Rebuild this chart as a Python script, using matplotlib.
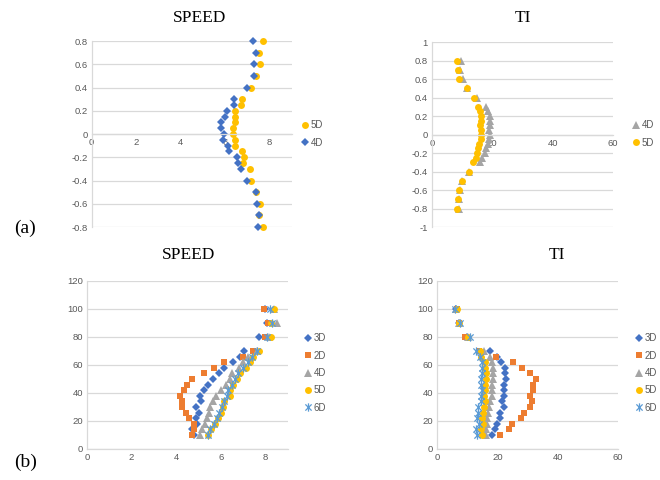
import numpy as np
import matplotlib.pyplot as plt
from matplotlib.path import Path
from matplotlib.ticker import FuncFormatter

# (a) top row: normalised position across the wake
pos_a = [0.8, 0.7, 0.6, 0.5, 0.4, 0.3, 0.25, 0.2, 0.15, 0.1, 0.05, 0, -0.05,
         -0.1, -0.15, -0.2, -0.25, -0.3, -0.4, -0.5, -0.6, -0.7, -0.8]
speed_a_5d = [7.7, 7.52, 7.55, 7.4, 7.18, 6.77, 6.7, 6.46, 6.46, 6.43, 6.35, 6.35,
              6.46, 6.46, 6.77, 6.83, 6.8, 7.1, 7.18, 7.4, 7.55, 7.52, 7.7]
speed_a_4d = [7.25, 7.4, 7.28, 7.28, 7.0, 6.4, 6.4, 6.08, 6.0, 5.83, 5.8, 5.95,
              5.9, 6.13, 6.17, 6.53, 6.6, 6.7, 6.98, 7.37, 7.43, 7.52, 7.49]
ti_a_4d = [9.7, 9.4, 10.3, 11.6, 15.0, 18.0, 18.6, 19.1, 19.4, 19.1, 18.9, 19.1,
           18.8, 18.6, 18.0, 17.5, 16.7, 15.8, 12.3, 10.1, 9.2, 8.8, 9.0]
ti_a_5d = [8.4, 8.7, 9.0, 11.5, 13.9, 15.4, 15.9, 16.1, 16.1, 15.9, 16.1, 16.1,
           16.4, 15.6, 15.4, 15.0, 14.7, 13.6, 12.2, 10.0, 9.0, 8.6, 8.4]

# (b) bottom row: height
height_b = [100, 90, 80, 70, 66, 62, 58, 54, 50, 46, 42, 38, 34, 30, 26, 22, 18, 14, 10]
speed_b = {
    "3D": [7.97, 8.08, 7.72, 7.03, 6.85, 6.53, 6.15, 5.89, 5.63, 5.41, 5.26, 5.07,
           5.1, 4.89, 5.0, 4.89, 4.92, 4.7, 4.81],
    "2D": [7.94, 8.12, 7.97, 7.42, 6.97, 6.15, 5.71, 5.25, 4.69, 4.5, 4.35, 4.17,
           4.25, 4.25, 4.44, 4.55, 4.8, 4.81, 4.69],
    "4D": [8.39, 8.52, 8.17, 7.6, 7.23, 7.0, 6.81, 6.51, 6.41, 6.21, 6.0, 5.77,
           5.66, 5.51, 5.47, 5.36, 5.29, 5.17, 5.07],
    "5D": [8.39, 8.22, 8.24, 7.7, 7.45, 7.3, 7.12, 6.85, 6.7, 6.53, 6.41, 6.41,
           6.15, 6.1, 5.98, 5.85, 5.74, 5.56, 5.41],
    "6D": [8.2, 8.27, 8.08, 7.6, 7.37, 7.23, 7.0, 6.78, 6.63, 6.48, 6.33, 6.26,
           6.14, 6.03, 5.89, 5.81, 5.69, 5.5, 5.44],
}
ti_b = {
    "3D": [6.4, 7.2, 9.9, 17.5, 20.0, 21.2, 22.5, 22.5, 23.0, 22.3, 22.3, 22.3,
           21.5, 22.1, 21.0, 21.0, 20.0, 19.3, 18.3],
    "2D": [6.6, 7.3, 9.3, 13.9, 19.7, 25.3, 28.1, 31.0, 32.7, 31.8, 31.8, 31.0,
           31.4, 30.7, 28.8, 27.7, 25.0, 23.8, 21.0],
    "4D": [6.4, 7.3, 10.3, 15.5, 17.7, 18.3, 18.7, 18.7, 18.7, 18.3, 18.3, 18.1,
           17.7, 17.2, 17.0, 16.7, 16.7, 16.4, 16.1],
    "5D": [6.6, 7.3, 10.3, 14.4, 14.7, 16.0, 16.0, 16.4, 16.1, 16.0, 15.8, 15.5,
           16.0, 15.5, 15.2, 14.9, 15.2, 14.7, 14.9],
    "6D": [5.9, 7.5, 10.8, 13.0, 14.1, 15.0, 15.0, 15.0, 14.7, 14.7, 15.0, 14.7,
           14.7, 13.6, 13.6, 13.4, 13.9, 13.0, 13.4],
}

# excel-like star marker: x with a vertical bar
star = Path([(0, -1), (0, 1), (-0.75, -0.75), (0.75, 0.75), (-0.75, 0.75), (0.75, -0.75)],
            [Path.MOVETO, Path.LINETO] * 3)

styles = {
    "3D": dict(marker="D", color="#4472C4", ms=4.5),
    "2D": dict(marker="s", color="#ED7D31", ms=4.8),
    "4D": dict(marker="^", color="#A5A5A5", ms=5.5),
    "5D": dict(marker="o", color="#FFC000", ms=5.0),
    "6D": dict(marker=star, color="#5B9BD5", ms=6.0),
}

TICK_FONT = "Liberation Sans"
GRID = "#D9D9D9"
TXT = "#595959"


def draw(ax, x, y, label, st):
    kw = dict(linestyle="none", marker=st["marker"], ms=st["ms"], clip_on=False, label=label)
    if st["marker"] is star:
        kw.update(mfc="none", mec=st["color"], mew=0.9)
    else:
        kw.update(mfc=st["color"], mec=st["color"], mew=0)
    return ax.plot(x, y, **kw)[0]


def fmt(v, p):
    v = round(v, 2)
    return "%g" % (0.0 if abs(v) < 1e-9 else v)


def style(ax, xlim, xticks, ylim, yticks, zero_axis):
    ax.set_xlim(*xlim)
    ax.set_ylim(*ylim)
    ax.set_xticks(xticks)
    ax.set_yticks(yticks)
    ax.yaxis.set_major_formatter(FuncFormatter(fmt))
    for s in ("top", "right"):
        ax.spines[s].set_visible(False)
    for s in ("left", "bottom"):
        ax.spines[s].set_color(GRID)
        ax.spines[s].set_linewidth(0.9)
    if zero_axis:
        ax.spines["bottom"].set_position(("data", 0))
    ax.yaxis.grid(True, color=GRID, lw=0.9)
    ax.set_axisbelow(True)
    ax.tick_params(length=0, labelsize=6.8, labelcolor=TXT, pad=3)
    for lab in ax.get_xticklabels() + ax.get_yticklabels():
        lab.set_fontfamily(TICK_FONT)


def legend(ax, handles, x, y, spacing):
    leg = ax.legend(handles=handles, loc="center left", bbox_to_anchor=(x, y),
                    bbox_transform=ax.figure.transFigure, frameon=False,
                    handlelength=0.8, handletextpad=0.2, borderpad=0, borderaxespad=0,
                    labelspacing=spacing, prop={"family": TICK_FONT, "size": 7})
    for t in leg.get_texts():
        t.set_color(TXT)


fig = plt.figure(figsize=(6.6, 4.8), dpi=100)
title_font = dict(family="Liberation Serif", size=12.5)

# (a) SPEED
ax1 = fig.add_axes([0.139, 0.527, 0.303, 0.3875])
style(ax1, (0, 9), [0, 2, 4, 6, 8], (-0.8, 0.8), np.arange(-0.8, 0.81, 0.2), True)
h5 = draw(ax1, speed_a_5d, pos_a, "5D", styles["5D"])
h4 = draw(ax1, speed_a_4d, pos_a, "4D", styles["3D"])
legend(ax1, [h5, h4], 0.456, 0.721, 0.75)
fig.text(0.303, 0.962, "SPEED", ha="center", va="center", **title_font)

# (a) TI
ax2 = fig.add_axes([0.6545, 0.527, 0.2742, 0.3855])
style(ax2, (0, 60), [0, 20, 40, 60], (-1, 1), np.arange(-1, 1.01, 0.2), True)
h4 = draw(ax2, ti_a_4d, pos_a, "4D", styles["4D"])
h5 = draw(ax2, ti_a_5d, pos_a, "5D", styles["5D"])
legend(ax2, [h4, h5], 0.957, 0.721, 0.75)
fig.text(0.792, 0.962, "TI", ha="center", va="center", **title_font)

# (b) SPEED
ax3 = fig.add_axes([0.1318, 0.0646, 0.3045, 0.35])
style(ax3, (0, 9), [0, 2, 4, 6, 8], (0, 120), range(0, 121, 20), False)
hs = [draw(ax3, speed_b[k], height_b, k, styles[k]) for k in ["3D", "2D", "4D", "5D", "6D"]]
legend(ax3, hs, 0.461, 0.223, 0.75)
fig.text(0.285, 0.469, "SPEED", ha="center", va="center", **title_font)

# (b) TI
ax4 = fig.add_axes([0.6621, 0.0646, 0.2742, 0.35])
style(ax4, (0, 60), [0, 20, 40, 60], (0, 120), range(0, 121, 20), False)
hs = [draw(ax4, ti_b[k], height_b, k, styles[k]) for k in ["3D", "2D", "4D", "5D", "6D"]]
legend(ax4, hs, 0.962, 0.223, 0.75)
fig.text(0.844, 0.469, "TI", ha="center", va="center", **title_font)

fig.text(0.038, 0.525, "(a)", ha="center", va="center", family="Liberation Serif", size=14)
fig.text(0.038, 0.037, "(b)", ha="center", va="center", family="Liberation Serif", size=14)

fig.savefig("out.png", dpi=100)
